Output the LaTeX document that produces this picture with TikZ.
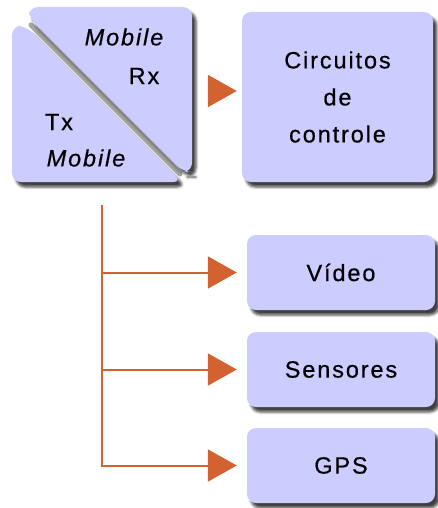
\documentclass[tikz,border=0pt]{standalone}
\usepackage{fontspec}
\setmainfont{Liberation Sans}
\newfontfamily\lbl[LetterSpace=8, FakeBold=0.5]{Liberation Sans}
\usetikzlibrary{arrows.meta,shadows.blur}
\definecolor{boxfill}{RGB}{204,204,255}
\definecolor{wire}{RGB}{210,98,48}
\tikzset{
  x=1pt, y=-1pt,
  soft/.style={blur shadow={shadow xshift=4pt, shadow yshift=-5pt,
      shadow blur radius=2.5pt, shadow opacity=75}},
  panel/.style={fill=boxfill, rounded corners=9pt, soft},
  unit/.style={panel, minimum width=188pt, inner sep=0pt,
      font=\lbl\fontsize{23.5}{37}\selectfont, align=center},
  tip/.style={-{Triangle[length=29pt, width=32pt]}},
  branch/.style={draw=wire, line width=2pt, tip},
  label/.style={font=\lbl\fontsize{23.5}{26}\selectfont, inner sep=0pt},
  ilabel/.style={font=\lbl\itshape\fontsize{23.5}{26}\selectfont, inner sep=0pt}
}
\begin{document}
\begin{tikzpicture}
\useasboundingbox (0,0) rectangle (437,508);

% split Tx/Rx block: lower-left and upper-right halves, grey seam between
\fill[panel] (12,26) -- (26,26) -- (182,182) -- (12,182) -- cycle;
\draw[line width=5pt, gray!70, line cap=round] (31,25) -- (180,174);
\fill[panel] (29,18) -- (29,7) -- (192,7) -- (192,172) -- (183,172) -- cycle;
\node[inner sep=0pt, minimum width=180pt, minimum height=176pt] (mob) at (102,95) {};
\node[ilabel] (mrx) at (124,37) {Mobile};
\node[label] (rx) at (144,76) {Rx};
\node[label] (tx) at (59,122) {Tx};
\node[ilabel] (mtx) at (86,158) {Mobile};

% controller block
\node[unit, minimum width=191pt, minimum height=170pt] (ctrl) at (337.5,97) {Circuitos\\de\\controle};

% peripheral blocks
\node[unit, minimum height=75pt] (video) at (341,272.5) {Vídeo};
\node[unit, minimum height=75pt] (sens) at (341,369.5) {Sensores};
\node[unit, minimum height=75pt] (gps) at (341,465.5) {GPS};

% links
\draw[branch, shorten <=16pt, shorten >=5pt]
  ([yshift=4pt]mob.east) -- ([yshift=6pt]ctrl.west);
\coordinate (trunk) at (102,205);
\draw[branch, shorten >=10pt] (trunk) |- (gps.west);
\draw[branch, shorten >=10pt] (trunk |- video.west) -- (video.west);
\draw[branch, shorten >=10pt] (trunk |- sens.west) -- (sens.west);
\end{tikzpicture}
\end{document}
